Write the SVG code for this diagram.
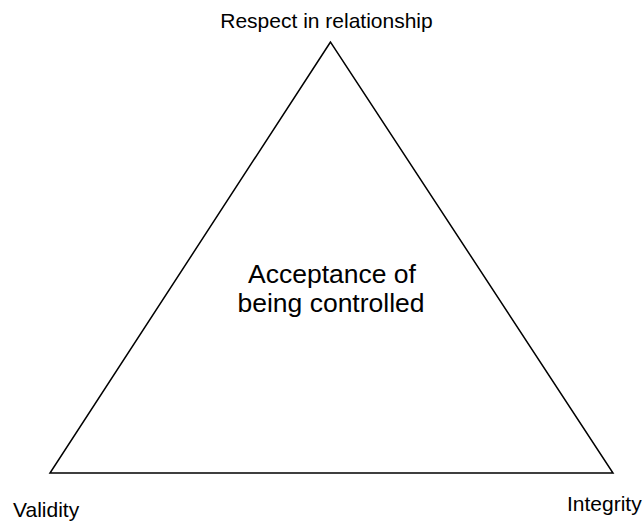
<svg xmlns="http://www.w3.org/2000/svg" width="643" height="521" viewBox="0 0 643 521">
  <style>
    text { font-family: "Liberation Sans", Arial, sans-serif; fill: #000; }
    .corner { font-size: 21px; }
    .center { font-size: 26.5px; text-anchor: middle; }
    .edge { fill: none; stroke: #000; stroke-width: 1.5; stroke-linejoin: miter; }
  </style>
  <rect width="643" height="521" fill="#fff"/>
  <g id="connectors">
    <polygon class="edge" points="330.5,42 50,473 613,473"/>
  </g>
  <g id="node-top">
    <text class="corner" x="326.5" y="28" text-anchor="middle">Respect in relationship</text>
  </g>
  <g id="node-left">
    <text class="corner" x="13" y="517">Validity</text>
  </g>
  <g id="node-right">
    <text class="corner" x="567" y="511">Integrity</text>
  </g>
  <g id="node-center">
    <text class="center" x="332" y="283">Acceptance of</text>
    <text class="center" x="331" y="312">being controlled</text>
  </g>
</svg>
